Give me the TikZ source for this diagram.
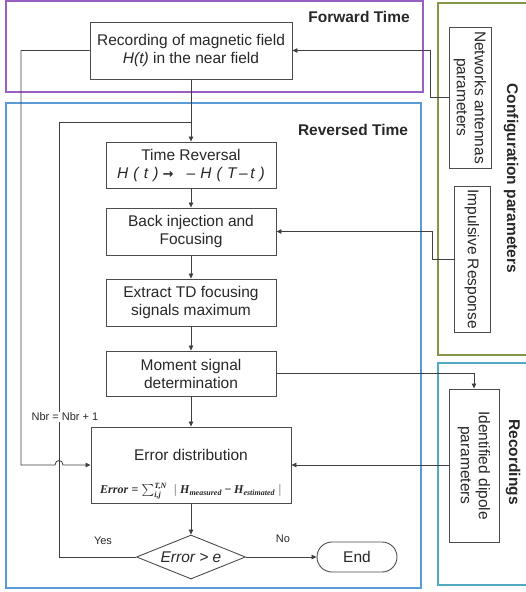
\documentclass[tikz,border=0pt]{standalone}
\usepackage{amsmath}
\usepackage{fontspec}
\setmainfont{Liberation Sans}
\newfontfamily\dejavu{DejaVu Sans}
\newfontfamily\fserif{Liberation Serif}
\usetikzlibrary{arrows.meta,shapes.geometric}
\definecolor{fwdcol}{RGB}{155,95,195}
\definecolor{revcol}{RGB}{91,155,213}
\definecolor{cfgcol}{RGB}{130,152,72}
\definecolor{reccol}{RGB}{80,170,196}
\definecolor{ink}{RGB}{40,40,40}
\newcommand{\bitx}[1]{\text{\fserif\bfseries\itshape #1}}
\newcommand{\bup}[1]{\text{\fserif\bfseries #1}}
\newcommand{\errformula}{{\fontsize{12}{14}\selectfont$\bitx{Error}\mathrel{\bup{=}}\sum_{\bitx{i,j}}^{\bitx{T,N}}\ \mid\bitx{H}_{\bitx{measured}}\mathbin{\bup{−}}\bitx{H}_{\bitx{estimated}}\mid$}}
\begin{document}
\begin{tikzpicture}[x=1pt,y=-1pt,
  every node/.style={font=\fontsize{15.5}{18}\selectfont, text=ink},
  box/.style={draw=black!70, line width=0.9pt, fill=white, align=center, inner sep=2pt},
  conn/.style={draw=black!75, line width=0.8pt},
  arr/.style={conn, -{Triangle[length=5pt,width=4.5pt]}},
  frame/.style={line width=1.6pt},
  lbl/.style={font=\fontsize{11}{13}\selectfont},
  ttl/.style={font=\bfseries\fontsize{15.5}{17}\selectfont},
]
\useasboundingbox (0,0) rectangle (526,592);
\clip (0,0) rectangle (526,592);

% frames
\draw[frame, draw=fwdcol] (6,1) rectangle (423,92);
\draw[frame, draw=revcol, line width=2pt] (6,103) rectangle (421,588);
\draw[frame, draw=cfgcol] (438,3) rectangle (545,355);
\draw[frame, draw=reccol] (438,363) rectangle (545,585);

\node[ttl] (ft) at (359,17) {Forward Time};
\node[ttl] (rt) at (353,130) {Reversed Time};
\node[ttl, rotate=-90] (cfg) at (511,178.5) {Configuration parameters};
\node[ttl, rotate=-90] (rcd) at (513,462) {Recordings};

% main boxes
\node[box, minimum width=202, minimum height=57] (rec) at (191,50.5) {Recording of magnetic field\\\textit{H(t)} in the near field};
\node[box, minimum width=170, minimum height=46] (tr) at (191,165) {Time Reversal\\\textit{H\,\,(\,\,t\,\,)}\ {\dejavu\bfseries\fontsize{13}{14}\selectfont →}\ \ \ \textit{–\,\,H\,\,(\,\,T\,–\,t\,\,)}};
\node[box, minimum width=170, minimum height=47] (bi) at (191,231.5) {Back injection and\\Focusing};
\node[box, minimum width=170, minimum height=47] (ex) at (191,302.5) {Extract TD focusing\\signals maximum};
\node[box, minimum width=170, minimum height=45] (ms) at (191,373.5) {Moment signal\\determination};
\node[box, minimum width=200, minimum height=76] (ed) at (191,465) {};
\node (edt) at (191,455) {Error distribution};
\node (edf) at (191,491) {\errformula};
\node[box, diamond, aspect=2.5, minimum width=109, minimum height=44, inner sep=0pt] (dia) at (191,557) {\textit{Error > e}};
\node[box, rounded corners=15pt, minimum width=80, minimum height=30] (end) at (357,557) {End};

% side boxes
\node[box, rotate=-90, minimum width=141, minimum height=42] (net) at (470,97.5) {Networks antennas\\parameters};
\node[box, rotate=-90, minimum width=146, minimum height=36] (imp) at (472,259) {Impulsive Response};
\node[box, rotate=-90, minimum width=153, minimum height=50] (idp) at (474,465.5) {Identified dipole\\parameters};

% coordinates
\coordinate (nk) at (430,0);
\coordinate (ik) at (432,0);
\coordinate (lp) at (59,122);
\coordinate (ol) at (21,465);
\coordinate (h1) at (55,465);
\coordinate (h1a) at (55,459);
\coordinate (h2a) at (63,459);
\coordinate (h2) at (63,465);

% connectors
\draw[arr] (rec.south) -- (tr.north);
\draw[arr] (tr.south) -- (bi.north);
\draw[arr] (bi.south) -- (ex.north);
\draw[arr] (ex.south) -- (ms.north);
\draw[arr] (ms.south) -- (ed.north);
\draw[arr] (ed.south) -- (dia.north);
\draw[arr] (dia.east) -- (end.west);
\draw[conn] (dia.west) -| (lp) -- (lp -| rec.south);
\draw[arr] (rec.west) -| (ol) -- (h1) .. controls (h1a) and (h2a) .. (h2) -- (ed.west);
\draw[arr] (net.south) -- (net.south -| nk) |- (rec.east);
\draw[arr] (imp.south) -- (imp.south -| ik) |- (bi.east);
\draw[arr] (ms.east) -| (idp.west);
\draw[arr] (idp.south |- ed.east) -- (ed.east);

\node[lbl, fill=white, inner sep=1pt] (nbr) at (65,417) {Nbr = Nbr + 1};
\node[lbl] (yes) at (103,541) {Yes};
\node[lbl] (no) at (283,539) {No};
\end{tikzpicture}
\end{document}
